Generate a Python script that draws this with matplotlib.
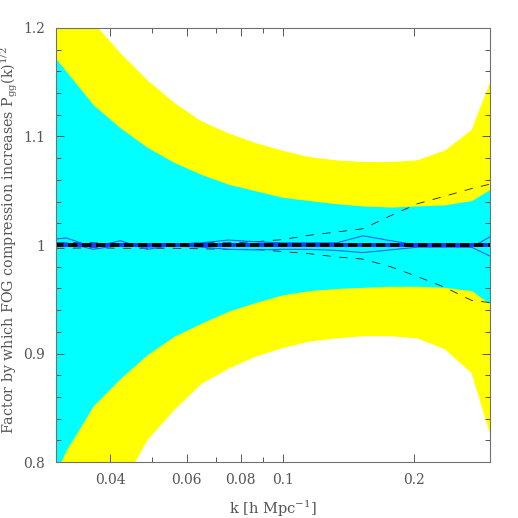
import matplotlib
matplotlib.use("Agg")
import matplotlib.pyplot as plt
import matplotlib.ticker as mtick
import numpy as np

# k bins [h/Mpc]
k = np.array([0.0275, 0.0317, 0.0366, 0.0422, 0.0487, 0.0562, 0.0649, 0.0749, 0.0864,
              0.0997, 0.115, 0.133, 0.153, 0.177, 0.204, 0.236, 0.272, 0.314])

# 2-sigma (yellow) and 1-sigma (cyan) bands
yellow_lo = [0.62, 0.68, 0.73, 0.775, 0.820, 0.848, 0.872, 0.886, 0.897,
             0.905, 0.911, 0.914, 0.916, 0.916, 0.914, 0.904, 0.882, 0.80]
yellow_hi = [1.27, 1.235, 1.205, 1.177, 1.152, 1.131, 1.114, 1.103, 1.094,
             1.087, 1.081, 1.078, 1.0765, 1.0765, 1.078, 1.087, 1.106, 1.17]
cyan_lo = [0.76, 0.811, 0.852, 0.877, 0.899, 0.916, 0.928, 0.939, 0.947,
           0.954, 0.958, 0.960, 0.961, 0.962, 0.962, 0.961, 0.958, 0.94]
cyan_hi = [1.19, 1.160, 1.129, 1.108, 1.090, 1.076, 1.065, 1.056, 1.050,
           1.044, 1.041, 1.038, 1.036, 1.035, 1.036, 1.037, 1.041, 1.056]

# individual measurements
blue_a = [1.004, 1.0065, 0.998, 1.004, 0.996, 1.000, 1.002, 1.0046, 1.003,
          1.002, 1.002, 1.002, 1.0085, 1.004, 1.000, 0.999, 0.998, 1.012]
blue_b = [1.000, 1.002, 0.996, 1.000, 0.998, 0.999, 0.998, 0.996, 0.9955,
          0.996, 0.996, 0.995, 0.993, 0.9955, 0.998, 0.998, 0.998, 0.986]
dash_hi = [1.002, 1.002, 1.002, 1.001, 1.001, 1.001, 1.002, 1.002, 1.003,
           1.005, 1.009, 1.012, 1.015, 1.027, 1.038, 1.045, 1.052, 1.058]
dash_lo = [0.997, 0.997, 0.9975, 0.997, 0.997, 0.997, 0.9965, 0.996, 0.996,
           0.994, 0.992, 0.989, 0.987, 0.980, 0.971, 0.961, 0.949, 0.946]
unity = np.ones(len(k))

plt.rcParams['font.family'] = 'DejaVu Serif'
plt.rcParams['mathtext.fontset'] = 'dejavuserif'
grey = '#555555'

fig = plt.figure(figsize=(5.18, 5.18), dpi=100)
ax = fig.add_axes([0.108, 0.108, 0.838, 0.838])

ax.fill_between(k, yellow_lo, yellow_hi, color='#ffff00', lw=0)
ax.fill_between(k, cyan_lo, cyan_hi, color='#00ffff', lw=0)
ax.plot(k, dash_hi, color='#202020', lw=0.6, dashes=(10, 10))
ax.plot(k, dash_lo, color='#202020', lw=0.6, dashes=(10, 10))
ax.plot(k, blue_a, color='#2060ff', lw=0.8)
ax.plot(k, blue_b, color='#2060ff', lw=0.8)
ax.plot(k, unity, color='#1a3cff', lw=2.8)
ax.plot(k, unity, color='black', lw=2.8, dashes=(2.4, 1.2))

ax.set_xscale('log')
ax.set_xlim(0.03, 0.3)
ax.set_ylim(0.8, 1.2)

ax.xaxis.set_major_locator(mtick.FixedLocator([0.04, 0.06, 0.08, 0.1, 0.2]))
ax.xaxis.set_major_formatter(mtick.FixedFormatter(['0.04', '0.06', '0.08', '0.1', '0.2']))
ax.xaxis.set_minor_locator(mtick.FixedLocator([0.05, 0.07, 0.09, 0.3]))
ax.xaxis.set_minor_formatter(mtick.NullFormatter())
ax.yaxis.set_major_locator(mtick.FixedLocator([0.8, 0.9, 1.0, 1.1, 1.2]))
ax.yaxis.set_major_formatter(mtick.FixedFormatter(['0.8', '0.9', '1', '1.1', '1.2']))
ax.yaxis.set_minor_locator(mtick.MultipleLocator(0.02))

ax.tick_params(which='both', direction='in', top=True, right=True,
               colors=grey, labelsize=10, width=0.7)
ax.tick_params(which='major', length=6, pad=8)
ax.tick_params(which='minor', length=3.5)
for s in ax.spines.values():
    s.set_color('#707070')
    s.set_linewidth(0.8)

ax.set_xlabel(r'k [h Mpc$^{-1}$]', color=grey, fontsize=10.5)
ax.set_ylabel(r'Factor by which FOG compression increases P$_{\rm gg}$(k)$^{1/2}$',
              color=grey, fontsize=10.3)
ax.xaxis.set_label_coords(0.5, -0.085)
ax.yaxis.set_label_coords(-0.082, 0.511)

fig.savefig('out.png', dpi=100)
